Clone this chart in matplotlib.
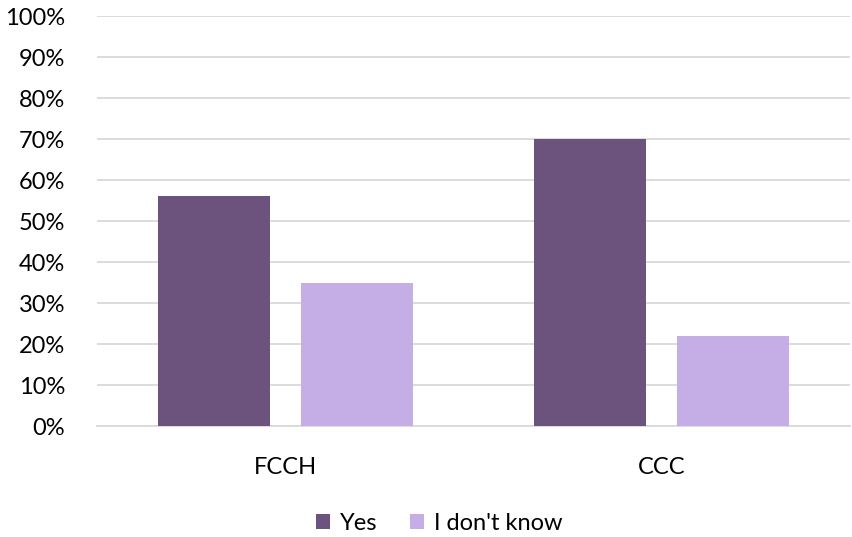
import numpy as np
import matplotlib.pyplot as plt
from matplotlib.ticker import PercentFormatter

plt.rcParams['font.family'] = ['Lato', 'DejaVu Sans']

# chart data
categories = ['FCCH', 'CCC']
yes = [56, 70]
dont_know = [35, 22]

fig = plt.figure(figsize=(8.53, 5.37), dpi=100)
ax = fig.add_axes([0.1137, 0.2067, 0.8823, 0.7633])

x = np.arange(len(categories))
w = 0.298
ax.bar(x - 0.19, yes, w, color='#6B537D', label='Yes', zorder=3)
ax.bar(x + 0.19, dont_know, w, color='#C5ADE5', label="I don't know", zorder=3)

ax.set_xlim(-0.5, 1.5)
ax.set_ylim(0, 100)
ax.set_yticks(np.arange(0, 101, 10))
ax.yaxis.set_major_formatter(PercentFormatter(decimals=0))
ax.set_xticks(x)
ax.set_xticklabels(categories)
ax.grid(axis='y', color='#D9D9D9', linewidth=1.3, zorder=0)
for s in ['top', 'right', 'left']:
    ax.spines[s].set_visible(False)
ax.spines['bottom'].set_color('#D9D9D9')
ax.spines['bottom'].set_linewidth(1.3)
ax.tick_params(length=0, labelsize=17, colors='black')
ax.tick_params(axis='y', pad=23)
ax.tick_params(axis='x', pad=22)

fig.legend(loc='center', bbox_to_anchor=(0.515, 0.026), ncol=2, frameon=False,
           fontsize=17, handlelength=0.6, handleheight=0.6, handletextpad=0.4,
           columnspacing=1.4)

fig.savefig('out.png', dpi=100)
